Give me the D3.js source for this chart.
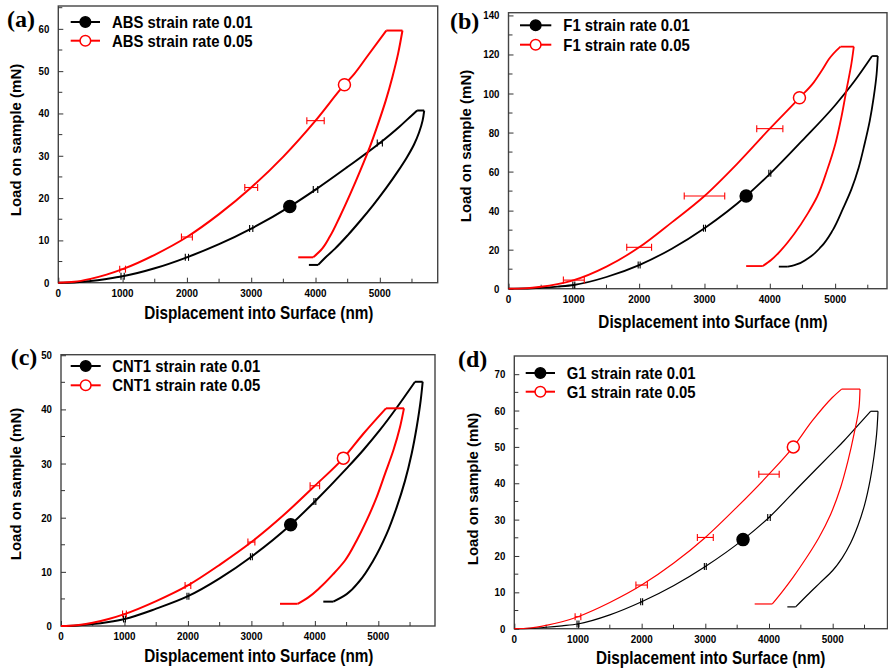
<!DOCTYPE html>
<html>
<head>
<meta charset="utf-8">
<script src="https://cdn.jsdelivr.net/npm/d3@7"></script>
<style>
  body { margin: 0; background: #fff; }
  svg text { font-family: "Liberation Sans", Arial, sans-serif; font-weight: bold; }
</style>
</head>
<body>
<svg id="chart" width="888" height="668"></svg>
<script>
// ---- data: [displacement nm, load mN] ----
const xTicks = [0, 1000, 2000, 3000, 4000, 5000];

// (a) ABS
const absYTicks = [0, 10, 20, 30, 40, 50, 60];
const absSlowLoad = [[0,0],[250,0.05],[500,0.4],[750,0.9],[1000,1.5],[1500,3.4],[2000,6],[2500,9.1],[3000,12.8],[3600,18],[4000,22],[4500,27.4],[5000,33],[5300,36.8],[5500,39.6],[5580,40.7]];
const absSlowUnload = [[5690,40.7],[5665,38.3],[5610,35.5],[5530,32.6],[5420,29.6],[5280,26.3],[5100,22.4],[4900,18.4],[4700,14.7],[4500,11.2],[4300,8],[4150,5.9],[4041,4.2],[3897,4.2]];
const absFastLoad = [[0,0],[250,0.2],[500,0.9],[750,1.9],[1000,3.2],[1500,6.6],[2000,10.8],[2500,16.2],[3000,22.5],[3500,29.8],[4000,38.3],[4450,46.8],[4600,49.3],[4800,53.4],[5100,59.6]];
const absFastUnload = [[5352,59.6],[5285,54.2],[5197,48.7],[5093,43.1],[4974,37.6],[4845,32.1],[4699,26.6],[4544,21.1],[4378,15.6],[4223,10.9],[4078,7.6],[3964,6],[3731,6]];
const absSlowErr = [[1000,1.5,25],[2000,6,25],[3000,12.8,25],[4000,22,35],[5000,33,40]];
const absFastErr = [[1000,3.2,45],[2000,10.8,85],[3000,22.5,100],[4000,38.3,135]];
const absSlowMark = [3600, 18];
const absFastMark = [4450, 46.8];

// (b) F1
const f1YTicks = [0, 20, 40, 60, 80, 100, 120, 140];
const f1SlowLoad = [[0,0],[250,0.1],[500,0.5],[750,1.1],[1000,1.9],[1500,6],[2000,12.1],[2500,20.5],[3000,31],[3638,47.5],[4010,59.1],[4500,76],[5000,94],[5300,106.5],[5566,119.2]];
const f1SlowUnload = [[5653,119.2],[5635,110],[5590,98],[5530,86],[5450,74],[5360,62],[5250,51],[5120,41],[4964,30],[4786,21.5],[4582,15.5],[4378,12.1],[4276,11.3],[4138,11.3]];
const f1FastLoad = [[0,0],[250,0.2],[500,1],[750,2.4],[1000,4.4],[1500,11.3],[2000,21.2],[2500,34],[3000,47.5],[3500,64],[4000,82],[4454,97.8],[4673,105.7],[4801,112],[4903,117.5],[5082,124]];
const f1FastUnload = [[5286,124],[5250,115.4],[5173,101.8],[5097,88.1],[5005,74.4],[4878,60.8],[4724,47.1],[4582,38.6],[4378,28.3],[4173,19.8],[4020,14.7],[3893,11.6],[3638,11.6]];
const f1SlowErr = [[1000,1.9,15],[2000,12.1,15],[3000,31,15],[4000,59.1,15]];
const f1FastErr = [[1000,4.4,160],[2000,21.2,190],[3000,47.5,310],[4000,82,200]];
const f1SlowMark = [3638, 47.5];
const f1FastMark = [4454, 97.8];

// (c) CNT1
const cntYTicks = [0, 10, 20, 30, 40, 50];
const cntSlowLoad = [[0,0],[250,0.1],[500,0.35],[750,0.75],[1000,1.3],[1500,3.2],[2000,5.5],[2500,8.8],[3000,12.8],[3619,18.7],[4000,23],[4501,29.1],[4764,32.5],[5026,36.2],[5289,40.3],[5578,45.1]];
const cntSlowUnload = [[5699,45.1],[5667,41.6],[5604,36.7],[5525,31.8],[5420,26.8],[5289,21.9],[5131,17],[4921,12.1],[4711,8.4],[4501,5.9],[4291,4.5],[4133,4.5]];
const cntFastLoad = [[0,0],[250,0.15],[500,0.6],[750,1.3],[1000,2.2],[1500,4.6],[2000,7.5],[2500,11.3],[3000,15.5],[3500,20.4],[4000,25.9],[4449,31],[4764,35.5],[5121,40.2]];
const cntFastUnload = [[5404,40.2],[5341,36.7],[5236,32.4],[5105,28.1],[4974,23.8],[4816,19.5],[4659,15.8],[4475,12.1],[4291,9.6],[4081,7.1],[3897,5.3],[3729,4.1],[3451,4.1]];
const cntSlowErr = [[1000,1.3,15],[2000,5.5,15],[3000,12.8,15],[4000,23,15]];
const cntFastErr = [[1000,2.2,30],[2000,7.5,45],[3000,15.5,55],[4000,25.9,75]];
const cntSlowMark = [3619, 18.7];
const cntFastMark = [4449, 31];

// (d) G1
const g1YTicks = [0, 10, 20, 30, 40, 50, 60, 70];
const g1SlowLoad = [[0,0],[250,0.1],[500,0.4],[750,0.8],[1000,1.3],[1500,3.8],[2000,7.4],[2500,11.8],[3000,17.1],[3592,24.5],[4000,30.6],[4500,39.6],[5000,48.5],[5178,51.7],[5400,56],[5597,59.8]];
const g1SlowUnload = [[5712,59.8],[5690,53.5],[5650,47.5],[5590,41],[5500,34],[5400,28.5],[5280,23.5],[5150,19.5],[5000,16],[4800,12.6],[4600,9.2],[4419,6],[4288,6]];
const g1FastLoad = [[0,0],[250,0.2],[500,0.9],[750,1.9],[1000,3.3],[1500,7.2],[2000,12],[2500,18],[3000,25.1],[3500,33.5],[4000,42.5],[4382,50],[4681,57.2],[4995,63.6],[5141,65.9]];
const g1FastUnload = [[5429,65.9],[5414,60.9],[5335,53.5],[5241,46.2],[5126,38.9],[4969,31.5],[4785,25.1],[4580,19.3],[4380,14.2],[4200,10],[4052,6.8],[3775,6.8]];
const g1SlowErr = [[1000,1.3,15],[2000,7.4,15],[3000,17.1,15],[4000,30.6,20]];
const g1FastErr = [[1000,3.3,45],[2000,12,90],[3000,25.1,125],[4000,42.5,160]];
const g1SlowMark = [3592, 24.5];
const g1FastMark = [4382, 50];

const panels = [
  { tag: '(a)', name: 'ABS', box: [58.3, 437.7, 6, 282.7], xMax: 5900, yMax: 65.4, yTicks: absYTicks, yMinor: 5, lw: 2,
    slow: [absSlowLoad, absSlowUnload, absSlowErr, absSlowMark], fast: [absFastLoad, absFastUnload, absFastErr, absFastMark],
    label: [7, 27], legend: [70.7, 100, 112, 22, 40.7], xTitle: [258.8, 319], yTitle: [21, 140] },
  { tag: '(b)', name: 'F1', box: [508.5, 887, 12.7, 288.7], xMax: 5794, yMax: 141.4, yTicks: f1YTicks, yMinor: 10, lw: 1.8,
    slow: [f1SlowLoad, f1SlowUnload, f1SlowErr, f1SlowMark], fast: [f1FastLoad, f1FastUnload, f1FastErr, f1FastMark],
    label: [450, 29], legend: [520, 551.3, 563.3, 25.3, 44.7], xTitle: [713, 328], yTitle: [471, 146] },
  { tag: '(c)', name: 'CNT1', box: [61, 435, 354.7, 626], xMax: 5893, yMax: 50.1, yTicks: cntYTicks, yMinor: 5, lw: 2,
    slow: [cntSlowLoad, cntSlowUnload, cntSlowErr, cntSlowMark], fast: [cntFastLoad, cntFastUnload, cntFastErr, cntFastMark],
    label: [10.7, 364.7], legend: [70.7, 100.7, 112.3, 366, 385.3], xTitle: [258.8, 661.7], yTitle: [21, 484] },
  { tag: '(d)', name: 'G1', box: [514.3, 887.5, 356, 628.7], xMax: 5861, yMax: 75, yTicks: g1YTicks, yMinor: 5, lw: 1.2,
    slow: [g1SlowLoad, g1SlowUnload, g1SlowErr, g1SlowMark], fast: [g1FastLoad, g1FastUnload, g1FastErr, g1FastMark],
    label: [458, 367], legend: [525.7, 555, 566.7, 373, 391.7], xTitle: [710.7, 664], yTitle: [477.7, 489] }
];

const svg = d3.select('#chart');

function addText(g, x, y, str, size, sx, anchor) {
  return g.append('text')
    .attr('transform', `translate(${x},${y}) scale(${sx},1)`)
    .attr('font-size', size)
    .attr('text-anchor', anchor || 'start')
    .text(str);
}

panels.forEach(p => {
  const [left, right, top, bottom] = p.box;
  const g = svg.append('g');
  const x = d3.scaleLinear().domain([0, p.xMax]).range([left, right]);
  const y = d3.scaleLinear().domain([0, p.yMax]).range([bottom, top]);

  // frame
  g.append('rect')
    .attr('x', left).attr('y', top)
    .attr('width', right - left).attr('height', bottom - top)
    .attr('fill', 'none').attr('stroke', '#444').attr('stroke-width', 1.4);

  // inward ticks on bottom and left
  const xMinor = d3.range(500, p.xMax, 1000);
  const xAxis = d3.axisBottom(x).tickValues(xTicks).tickSize(-5).tickFormat(d3.format('d'));
  const gx = g.append('g').attr('transform', `translate(0,${bottom})`).call(xAxis);
  gx.select('.domain').remove();
  gx.selectAll('.tick line').attr('stroke', '#333');
  gx.selectAll('.tick text').remove();
  g.append('g').selectAll('line').data(xMinor).join('line')
    .attr('x1', d => x(d)).attr('x2', d => x(d))
    .attr('y1', bottom).attr('y2', bottom - 4).attr('stroke', '#333');
  xTicks.forEach(t => addText(g, x(t), bottom + 14, String(t), 11, 0.9, 'middle'));

  const yMinor = d3.range(p.yMinor, p.yMax, p.yMinor * 2);
  const yAxis = d3.axisLeft(y).tickValues(p.yTicks).tickSize(-5);
  const gy = g.append('g').attr('transform', `translate(${left},0)`).call(yAxis);
  gy.select('.domain').remove();
  gy.selectAll('.tick line').attr('stroke', '#333');
  gy.selectAll('.tick text').remove();
  g.append('g').selectAll('line').data(yMinor).join('line')
    .attr('x1', left).attr('x2', left + 4)
    .attr('y1', d => y(d)).attr('y2', d => y(d)).attr('stroke', '#333');
  p.yTicks.forEach(t => addText(g, left - 9, y(t) + 4, String(t), 11, 0.88, 'end'));

  const loadLine = d3.line().x(d => x(d[0])).y(d => y(d[1])).curve(d3.curveMonotoneX);
  const unloadLine = d3.line().x(d => x(d[0])).y(d => y(d[1])).curve(d3.curveMonotoneY);
  const straight = d3.line().x(d => x(d[0])).y(d => y(d[1]));

  function drawSeries(s, color, filled) {
    const [load, unload, err, mark] = s;
    // unloading branch is monotone in load, drawn bottom to top
    const unloadCurve = unload.slice(0, -1).slice().sort((a, b) => a[1] - b[1]);
    const pathStyle = sel => sel.attr('fill', 'none').attr('stroke', color)
      .attr('stroke-width', p.lw).attr('stroke-linejoin', 'round');
    g.append('path').datum(load).attr('d', loadLine).call(pathStyle);
    g.append('path').datum([load[load.length - 1], unload[0]]).attr('d', straight).call(pathStyle);
    g.append('path').datum(unloadCurve).attr('d', unloadLine).call(pathStyle);
    g.append('path').datum(unload.slice(-2)).attr('d', straight).call(pathStyle);

    // horizontal error bars
    const eb = g.append('g').attr('stroke', color).attr('stroke-width', 1.1);
    err.forEach(([ex, ey, ew]) => {
      eb.append('line').attr('x1', x(ex - ew)).attr('x2', x(ex + ew)).attr('y1', y(ey)).attr('y2', y(ey));
      [ex - ew, ex + ew].forEach(cx => {
        eb.append('line').attr('x1', x(cx)).attr('x2', x(cx)).attr('y1', y(ey) - 3.5).attr('y2', y(ey) + 3.5);
      });
    });

    g.append('circle').attr('cx', x(mark[0])).attr('cy', y(mark[1])).attr('r', 6)
      .attr('fill', filled ? color : '#fff').attr('stroke', color).attr('stroke-width', 1.5);
  }

  drawSeries(p.slow, '#000', true);
  drawSeries(p.fast, '#ff0000', false);

  // legend
  const [lx1, lx2, tx, r1, r2] = p.legend;
  [[r1, '#000', true, ' strain rate 0.01'], [r2, '#ff0000', false, ' strain rate 0.05']].forEach(([ry, c, f, s]) => {
    g.append('line').attr('x1', lx1).attr('x2', lx2).attr('y1', ry).attr('y2', ry)
      .attr('stroke', c).attr('stroke-width', 2);
    g.append('circle').attr('cx', (lx1 + lx2) / 2).attr('cy', ry).attr('r', 5.3)
      .attr('fill', f ? c : '#fff').attr('stroke', c).attr('stroke-width', 1.5);
    addText(g, tx, ry + 6, p.name + s, 16, 0.93);
  });

  // axis titles
  addText(g, p.xTitle[0], p.xTitle[1], 'Displacement into Surface (nm)', 18, 0.85, 'middle');
  g.append('text')
    .attr('transform', `translate(${p.yTitle[0]},${p.yTitle[1]}) rotate(-90)`)
    .attr('font-size', 15).attr('text-anchor', 'middle')
    .text('Load on sample (mN)');

  // panel tag
  g.append('text').attr('x', p.label[0]).attr('y', p.label[1])
    .attr('font-size', 24)
    .style('font-family', '"Liberation Serif", "Times New Roman", serif')
    .text(p.tag);
});
</script>
</body>
</html>
